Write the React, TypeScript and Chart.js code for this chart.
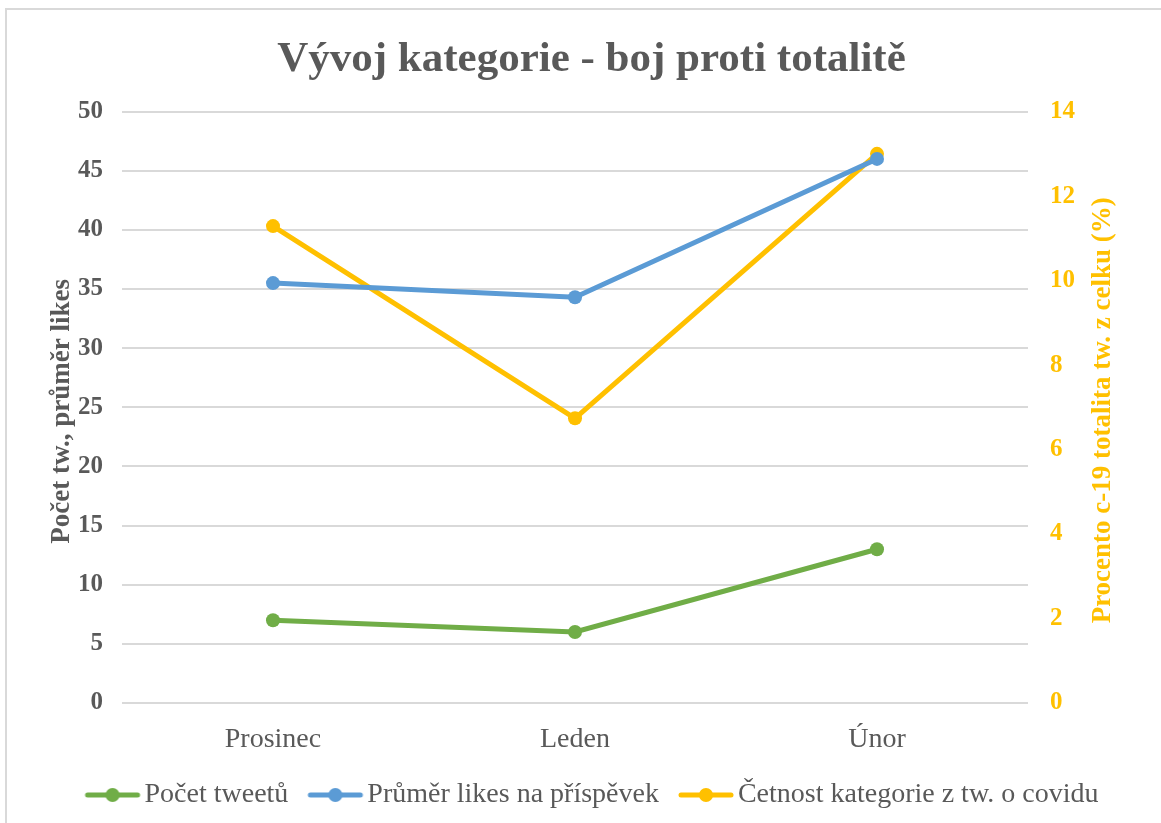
import React, { useEffect, useRef } from "react";
import { Chart, registerables } from "chart.js";

Chart.register(...registerables);

const categories = ["Prosinec", "Leden", "Únor"];
const pocetTweetu = [7, 6, 13];
const prumerLikes = [35.5, 34.3, 46.0];
const cetnostKategorie = [11.29, 6.74, 13.0];

const seriesNames = [
  "Počet tweetů",
  "Průměr likes na příspěvek",
  "Četnost kategorie z tw. o covidu",
];
const seriesColors = ["#70AD47", "#5B9BD5", "#FFC000"];

const chartTitle = "Vývoj kategorie - boj proti totalitě";
const leftAxisTitle = "Počet tw., průměr likes";
const rightAxisTitle = "Procento c-19 totalita tw. z celku (%)";

const FONT = "'Liberation Serif', 'Times New Roman', serif";
const TEXT = "#595959";
const GRID = "#d9d9d9";

// Legend marker image: line with a dot, placed so it starts at the item's left edge
const MARK_W = 80;
const MARK_OFF = 17;
function makeMarker(color: string): HTMLCanvasElement {
  const c = document.createElement("canvas");
  c.width = MARK_W;
  c.height = 16;
  const ctx = c.getContext("2d")!;
  ctx.strokeStyle = color;
  ctx.lineWidth = 5;
  ctx.lineCap = "round";
  ctx.beginPath();
  ctx.moveTo(MARK_OFF + 3, 8);
  ctx.lineTo(MARK_OFF + 53, 8);
  ctx.stroke();
  ctx.fillStyle = color;
  ctx.beginPath();
  ctx.arc(MARK_OFF + 28, 8, 7, 0, Math.PI * 2);
  ctx.fill();
  return c;
}

const axisTitlePlugin = {
  id: "axisTitles",
  afterDraw(chart: any) {
    const ctx = chart.ctx;
    const area = chart.chartArea;
    const cy = (area.top + area.bottom) / 2;
    ctx.save();
    ctx.font = `bold 27px ${FONT}`;
    ctx.textAlign = "center";
    ctx.textBaseline = "middle";
    ctx.fillStyle = TEXT;
    ctx.translate(62, cy + 4);
    ctx.rotate(-Math.PI / 2);
    ctx.fillText(leftAxisTitle, 0, 0);
    ctx.restore();

    ctx.save();
    ctx.font = `bold 27px ${FONT}`;
    ctx.textAlign = "center";
    ctx.textBaseline = "middle";
    ctx.fillStyle = "#FFC000";
    ctx.translate(1103, cy + 3);
    ctx.rotate(-Math.PI / 2);
    ctx.fillText(rightAxisTitle, 0, 0);
    ctx.restore();
  },
};

export default function App() {
  const ref = useRef<HTMLCanvasElement>(null);

  useEffect(() => {
    if (!ref.current) return;
    const markers = seriesColors.map(makeMarker);
    const values = [pocetTweetu, prumerLikes, cetnostKategorie];
    const axes = ["y", "y", "y1"];
    const chart = new Chart(ref.current, {
      type: "line",
      data: {
        labels: categories,
        datasets: values.map((v, i) => ({
          label: seriesNames[i],
          data: v,
          yAxisID: axes[i],
          borderColor: seriesColors[i],
          backgroundColor: seriesColors[i],
          pointBackgroundColor: seriesColors[i],
          pointBorderColor: seriesColors[i],
          borderWidth: 5,
          pointRadius: 7,
          pointBorderWidth: 0,
          pointStyle: "circle",
          tension: 0,
          fill: false,
        })),
      },
      options: {
        responsive: false,
        animation: false,
        layout: { padding: { top: 34, bottom: 4, left: 22, right: 0 } },
        plugins: {
          title: {
            display: true,
            text: chartTitle,
            color: TEXT,
            font: { family: FONT, size: 43, weight: "bold", lineHeight: 1.2 },
            padding: { top: 0, bottom: 26 },
          },
          legend: {
            position: "bottom",
            labels: {
              usePointStyle: true,
              pointStyleWidth: 46,
              padding: 19,
              color: TEXT,
              font: { family: FONT, size: 28 },
              generateLabels: (ch: any) =>
                ch.data.datasets.map((ds: any, i: number) => ({
                  text: ds.label,
                  fillStyle: seriesColors[i],
                  strokeStyle: seriesColors[i],
                  fontColor: TEXT,
                  lineWidth: 0,
                  pointStyle: markers[i],
                  hidden: false,
                  datasetIndex: i,
                })),
            },
          },
          tooltip: { enabled: false },
        },
        scales: {
          x: {
            offset: true,
            grid: { display: false, drawTicks: false },
            border: { display: false },
            ticks: {
              color: TEXT,
              font: { family: FONT, size: 28 },
              padding: 20,
            },
            afterFit: (s: any) => {
              s.height = 59;
            },
          },
          y: {
            position: "left",
            min: 0,
            max: 50,
            ticks: {
              stepSize: 5,
              color: TEXT,
              font: { family: FONT, size: 25, weight: "bold" },
              padding: 19,
            },
            grid: { color: GRID, lineWidth: 2, drawTicks: false },
            border: { display: false },
            afterFit: (s: any) => {
              s.width = 100;
            },
          },
          y1: {
            position: "right",
            min: 0,
            max: 14,
            ticks: {
              stepSize: 2,
              color: "#FFC000",
              font: { family: FONT, size: 25, weight: "bold" },
              padding: 22,
            },
            grid: { drawOnChartArea: false, drawTicks: false },
            border: { display: false },
            afterFit: (s: any) => {
              s.width = 133;
            },
          },
        },
      } as any,
      plugins: [axisTitlePlugin],
    });
    return () => chart.destroy();
  }, []);

  return (
    <div
      style={{
        position: "fixed",
        left: 0,
        top: 0,
        width: 1161,
        height: 823,
        background: "#fff",
        overflow: "hidden",
      }}
    >
      <div
        style={{
          position: "absolute",
          left: 5,
          top: 8,
          width: 1200,
          height: 900,
          borderLeft: "2px solid #d9d9d9",
          borderTop: "2px solid #d9d9d9",
        }}
      />
      <canvas
        ref={ref}
        width={1161}
        height={823}
        style={{ position: "absolute", left: 0, top: 0 }}
      />
    </div>
  );
}
